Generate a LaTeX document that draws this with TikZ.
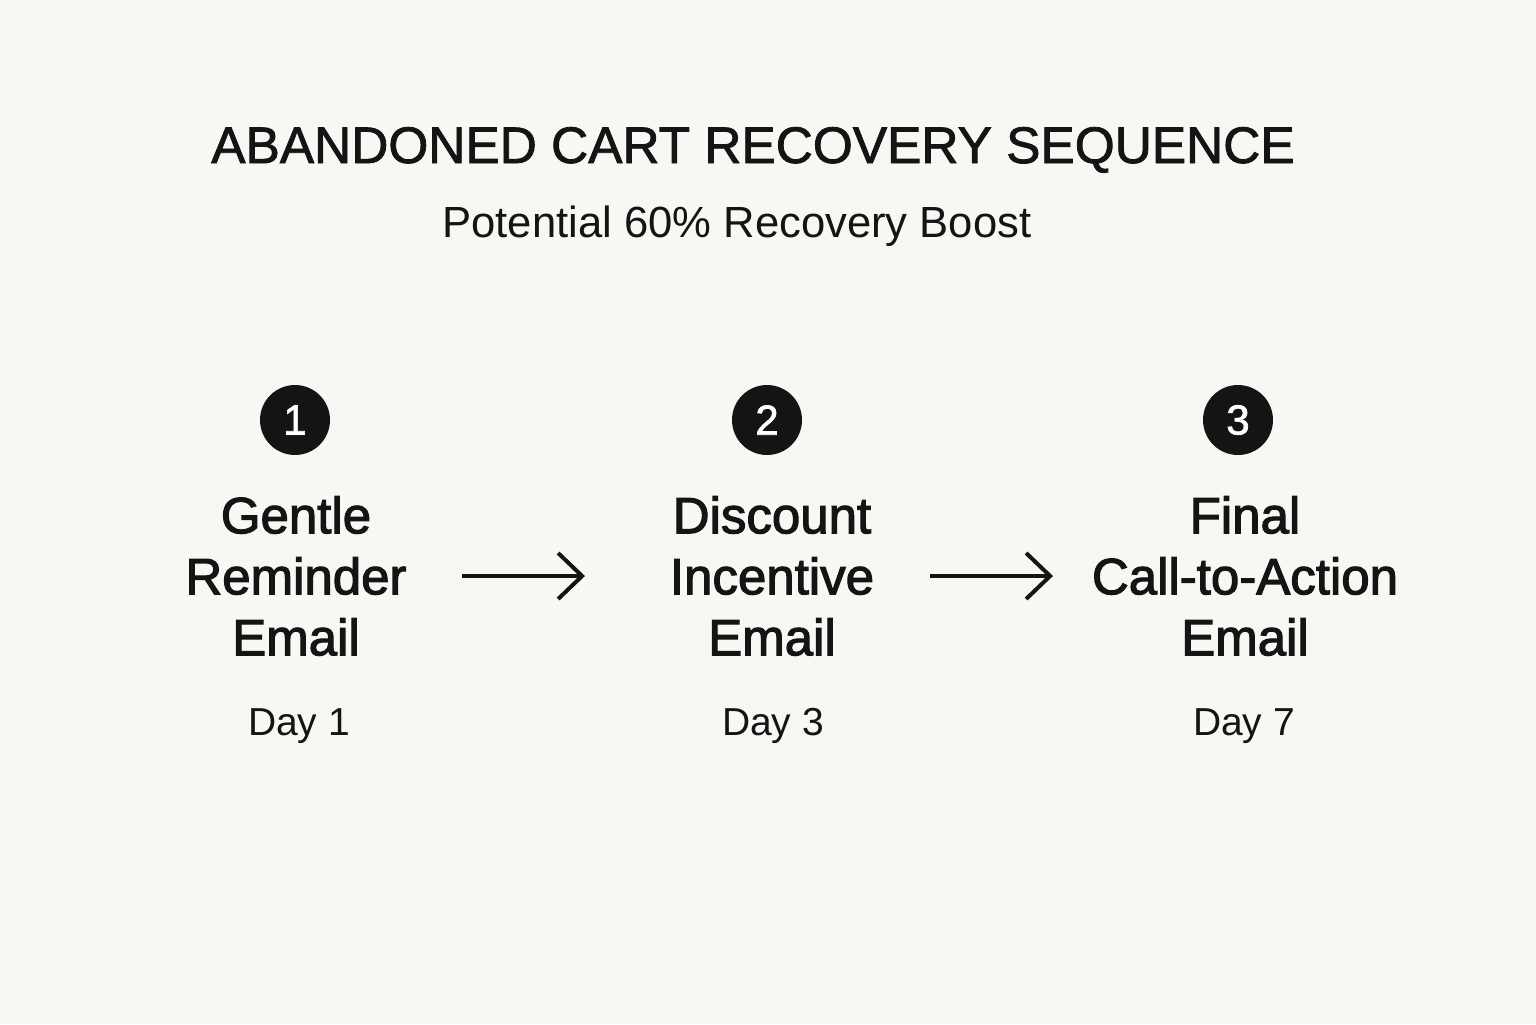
\documentclass[tikz,border=0pt]{standalone}
\usepackage{fontspec}
\setmainfont{Liberation Sans}
\newfontfamily\medfont[FakeBold=2.2]{Liberation Sans}
\newfontfamily\headfont[FakeBold=1.6]{Liberation Sans}
\usetikzlibrary{arrows.meta}
\definecolor{paper}{HTML}{F8F7F4}
\definecolor{ink}{HTML}{141414}
\tikzstyle{stepnum} = [circle, fill=ink, text=white, minimum size=35pt, inner sep=0pt, font=\headfont\fontsize{21}{21}\selectfont]
\tikzstyle{steptitle} = [align=center, text width=160pt, inner sep=0pt, text=ink, font=\medfont\fontsize{25.5}{30.5}\selectfont]
\tikzstyle{daylabel} = [anchor=base, text=ink, font=\fontsize{19.5}{19.5}\selectfont]
\tikzstyle{arrow} = [line width=2pt, draw=ink, -{Straight Barb[length=12pt, width=23pt]}]

\begin{document}
\begin{tikzpicture}[x=0.5pt, y=-0.5pt]
  \fill[paper] (0,0) rectangle (1536,1024);

  \node[anchor=base, text=ink, font=\headfont\fontsize{25.7}{25.7}\selectfont] (title) at (753,163) {ABANDONED CART RECOVERY SEQUENCE};
  \node[anchor=base, text=ink, font=\fontsize{21.8}{21.8}\selectfont] (subtitle) at (737,237) {Potential 60\% Recovery Boost};

  % numbered steps
  \node[stepnum] (num1) at (295,420) {1};
  \node[stepnum] (num2) at (767,420) {2};
  \node[stepnum] (num3) at (1238,420) {3};

  \node[steptitle] (step1) at (296,576) {Gentle\\Reminder\\Email};
  \node[steptitle] (step2) at (772,576) {Discount\\Incentive\\Email};
  \node[steptitle] (step3) at (1245,576) {Final\\Call-to-Action\\Email};

  \node[daylabel] (day1) at (299,735) {Day 1};
  \node[daylabel] (day2) at (773,735) {Day 3};
  \node[daylabel] (day3) at (1244,735) {Day 7};

  \draw[arrow, shorten <=83pt, shorten >=93.5pt] (step1.center) -- (step2.center);
  \draw[arrow, shorten <=79pt, shorten >=96pt] (step2.center) -- (step3.center);
\end{tikzpicture}
\end{document}
